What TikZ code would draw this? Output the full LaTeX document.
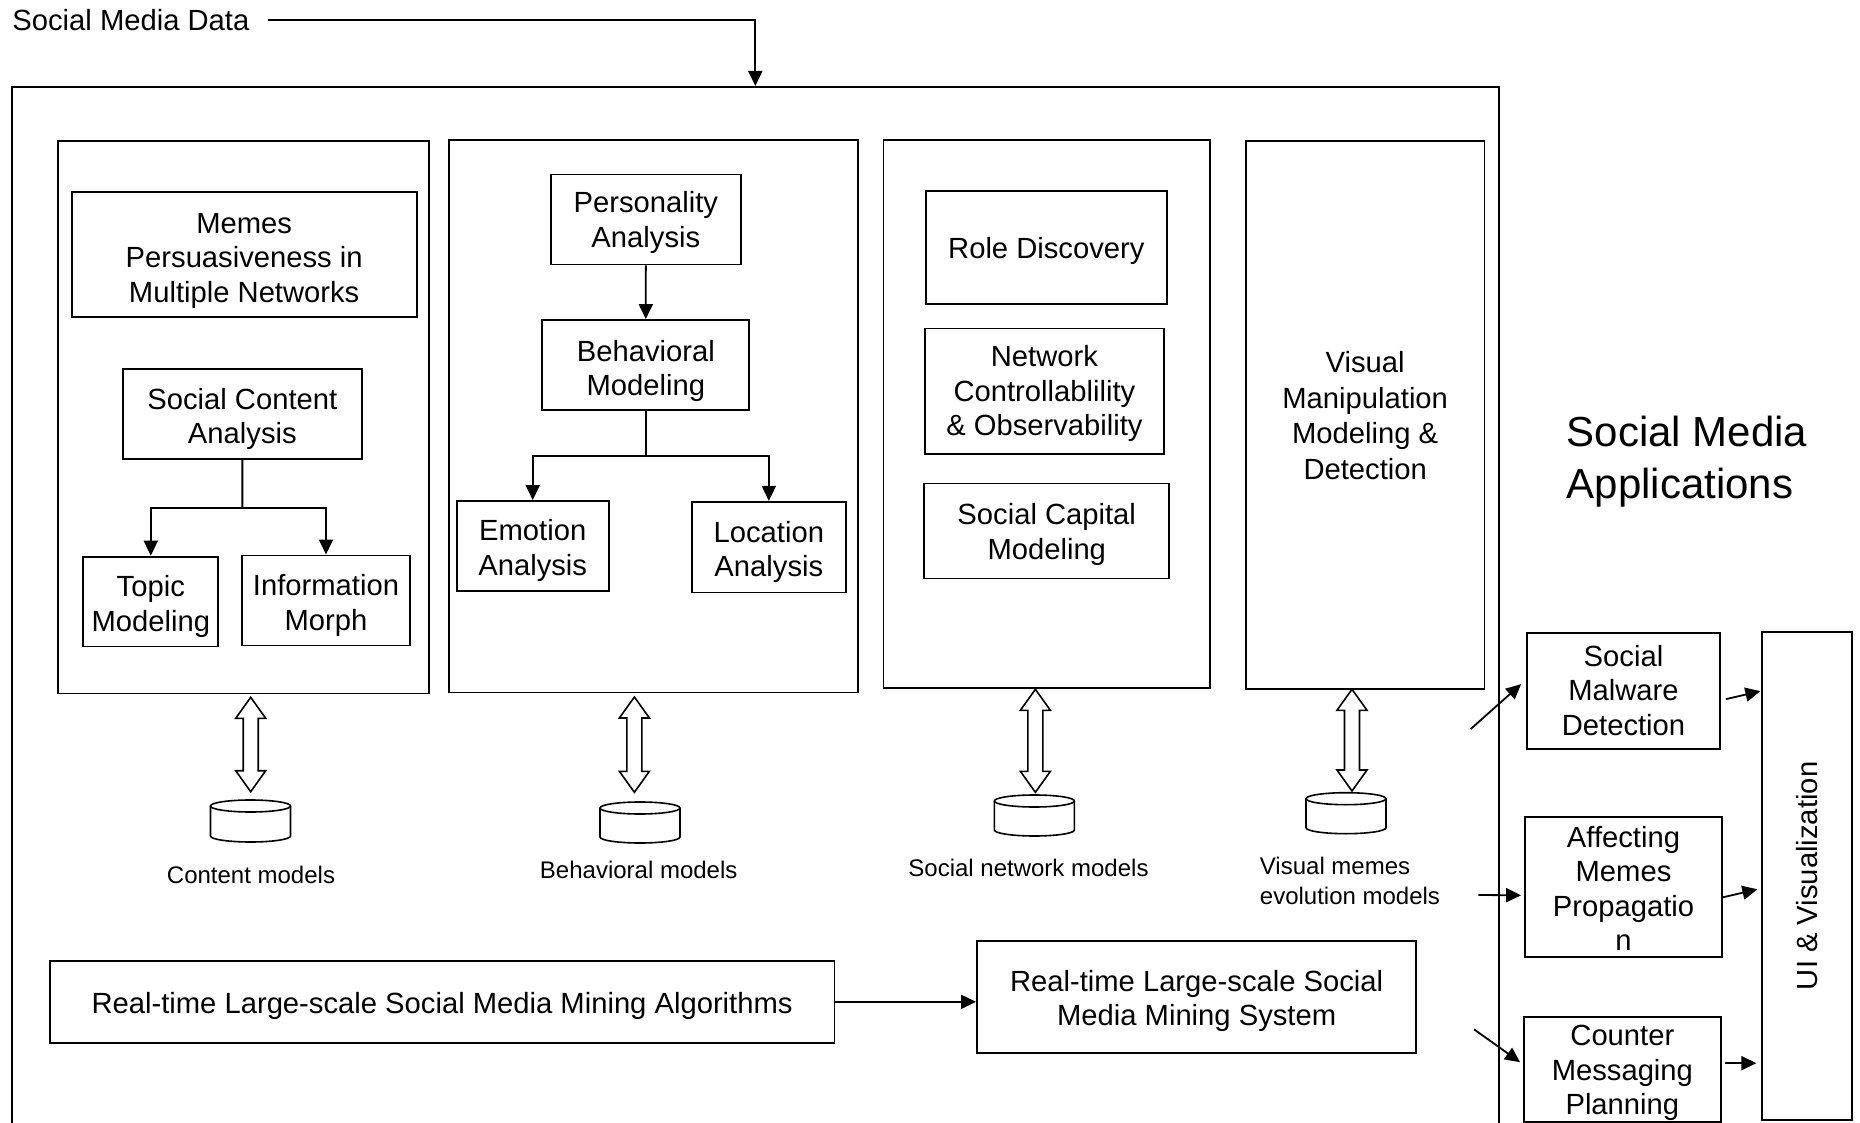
\documentclass[tikz,border=0pt]{standalone}
\usepackage{fontspec}
\setmainfont{Liberation Sans}
\usetikzlibrary{arrows.meta,calc}

% text sizes
\newcommand\txtmain{\fontsize{14.6pt}{17.3pt}\selectfont}
\newcommand\txtwide{\fontsize{14.6pt}{17.9pt}\selectfont}
\newcommand\txtsmall{\fontsize{12pt}{15pt}\selectfont}
\newcommand\txttitle{\fontsize{21pt}{26pt}\selectfont}
\newcommand\txtsource{\fontsize{14.6pt}{17pt}\selectfont}
% fixed line height (plus a little top room) for box texts
\newcommand\topstrut[1]{\rule{0pt}{\dimexpr0.905em+#1\relax}}
\newcommand\botstrut{\rule[-0.212em]{0pt}{0.212em}}

\begin{document}
\begin{tikzpicture}[x=0.5pt,y=-0.5pt,
  line width=0.9pt,
  % a rectangle given by its left, top, right and bottom edges
  span/.style n args={4}{minimum width={(#3-#1)*0.5pt},
    minimum height={(#4-#2)*0.5pt}, at={({(#1+#3)/2},{(#2+#4)/2})}},
  lines/.style={execute at begin node={\topstrut{#1}}, execute at end node=\botstrut},
  lines/.default=0pt,
  box/.style={draw, inner sep=0pt, align=center, font=\txtmain, lines=0pt},
  box1/.style={draw, inner sep=0pt, align=center, font=\txtmain, lines=1.2pt},
  lbl/.style={inner sep=0pt, align=center, font=\txtsmall, lines=2pt},
  arr/.style={-{Triangle[length=7.5pt,width=7pt]}},
  pics/twoway/.style={code={
    \draw[fill=white, line width=0.8pt]
      (0,0) -- (15,21) -- (7.5,21) -- (7.5,#1-21) -- (15,#1-21) -- (0,#1)
      -- (-15,#1-21) -- (-7.5,#1-21) -- (-7.5,21) -- (-15,21) -- cycle;
  }},
  pics/store/.style={code={
    \draw[fill=white, line width=0.8pt] (-40,6) -- (-40,#1-6)
      arc[start angle=180, end angle=0, x radius=40, y radius=6] -- (40,6);
    \draw[fill=white, line width=0.8pt] (0,6) ellipse [x radius=40, y radius=6];
  }}
]
\useasboundingbox (0,0) rectangle (1860,1123);
\fill[white] (0,0) rectangle (1860,1123);

% data source and the whole mining framework
\node[anchor=west, inner sep=0pt, font=\txtsource] (src) at (11.5,20) {Social Media Data};
\node[draw, inner sep=0pt, line width=1pt, span={11.7}{87}{1499}{1140}] (outer) {};
\draw[arr] ([xshift=9pt]src.east) -| (outer.north);

% four analysis panels
\node[draw, inner sep=0pt, span={57.7}{141}{429.3}{693.5}] (p1) {};
\node[draw, inner sep=0pt, span={449}{140.2}{858.3}{692.5}] (p2) {};
\node[draw, inner sep=0pt, span={883.5}{140.2}{1210}{688}] (p3) {};
\node[box, font=\txtwide, span={1245.9}{141.3}{1484.5}{688.6}] (p4) {\topstrut{0.9pt}Visual\\Manipulation\\Modeling \&\\Detection};

% content panel
\node[box, span={71.7}{191.8}{416.7}{317}] (memes) {\topstrut{3.4pt}Memes\\Persuasiveness in\\Multiple Networks};
\node[box, span={122.7}{369}{362}{459}] (sca) {\topstrut{2.2pt}Social Content\\Analysis};
\node[box, span={83.3}{556.6}{218.3}{646.5}] (topic) {\topstrut{2.2pt}Topic\\Modeling};
\node[box, span={242}{555.4}{410}{645.4}] (morph) {\topstrut{2.2pt}Information\\Morph};
\coordinate (j1) at (242.35,507.6);
\draw (sca.south) -- (j1);
\draw[arr] (j1) -| (topic.north);
\draw[arr] (j1) -| (morph.north);

% behaviour panel
\node[box, span={551}{174.6}{740.7}{264.6}] (pers) {\topstrut{0pt}Personality\\Analysis};
\node[box, span={542.3}{320}{749.3}{410}] (behav) {\topstrut{3.4pt}Behavioral\\Modeling};
\node[box, span={456.7}{501}{608.7}{591}] (emot) {\topstrut{1.8pt}Emotion\\Analysis};
\node[box, span={691.7}{501.8}{846}{592.5}] (loc) {\topstrut{2.2pt}Location\\Analysis};
\draw[arr] (pers.south) -- (behav.north);
\coordinate (j2) at (645.8,456);
\draw (behav.south) -- (j2);
\draw[arr] (j2) -| (emot.north);
\draw[arr] (j2) -| (loc.north);

% network panel
\node[box1, span={926}{191}{1166.7}{304}] (role) {Role Discovery};
\node[box, span={925}{328.5}{1163.9}{454}] (ctrl) {\topstrut{0pt}Network\\Controllablility\\\& Observability};
\node[box, span={924.3}{483.5}{1169.2}{578.4}] (capital) {\topstrut{1pt}Social Capital\\Modeling};

% model stores with two-way links to the panels
\pic at (250.7,697.3) {twoway=94.4};
\pic at (634.4,697) {twoway=95.3};
\pic at (1035.4,689.3) {twoway=103};
\pic at (1352,689.3) {twoway=101.7};
\pic at (250.5,800) {store=42};
\pic at (640,802) {store=41};
\pic at (1034.4,795) {store=41};
\pic at (1346,792.7) {store=41};

\node[lbl] (mcontent) at (251,873) {Content models};
\node[lbl] (mbehav) at (638.7,868) {Behavioral models};
\node[lbl] (mnet) at (1028.5,866) {Social network models};
\node[lbl, align=left, anchor=west] (mvis) at (1259,880) {\topstrut{1pt}Visual memes\\evolution models};

% mining algorithms feeding the mining system
\node[box1, span={49.8}{961}{834.4}{1042.7}] (alg) {Real-time Large-scale Social Media Mining Algorithms};
\node[box, span={977}{940.7}{1416.3}{1052.7}] (sys) {\topstrut{1.8pt}Real-time Large-scale Social\\Media Mining System};
\draw[arr] (alg.east) -- (alg.east -| sys.west);

% applications
\node[anchor=west, inner sep=0pt, align=left, font=\txttitle] (apps) at (1566,462) {Social Media\\Applications};
\node[box, span={1527}{633}{1720}{749.3}] (smd) {\topstrut{-0.5pt}Social\\Malware\\Detection};
\node[box, span={1525}{817.3}{1722}{957.3}] (amp) {\topstrut{1.5pt}Affecting\\Memes\\Propagatio\\n};
\node[box, span={1524}{1016.7}{1720.7}{1121.7}] (cmp) {\topstrut{1pt}Counter\\Messaging\\Planning};
\node[draw, inner sep=0pt, span={1762.3}{631.7}{1851.7}{1120}] (ui) {};
\node[rotate=90, inner sep=0pt, font=\txtmain, lines] (uitext) at (ui.center) {UI \& Visualization};

\coordinate (in1) at (1470.7,729);
\coordinate (in2) at (1478.3,895);
\coordinate (in3) at (1474,1029.3);
\draw[arr] (in1) -- ([xshift=-2.5pt,yshift=3.5pt]smd.west);
\draw[arr] (in2) -- ([xshift=-1.5pt,yshift=-4pt]amp.west);
\draw[arr] (in3) -- ([xshift=-1.5pt,yshift=3.5pt]cmp.west);

\draw[arr] ([xshift=2.5pt,yshift=-4pt]smd.east) -- ($(ui.west |- smd.east)+(-1,0)$);
\draw[arr] ([yshift=-5pt]amp.east) -- ($(ui.west |- amp.east)+(-4,2)$);
\draw[arr] ([xshift=1.5pt,yshift=3pt]cmp.east) -- ($(ui.west |- cmp.east)+(-5,-6)$);
\end{tikzpicture}
\end{document}
